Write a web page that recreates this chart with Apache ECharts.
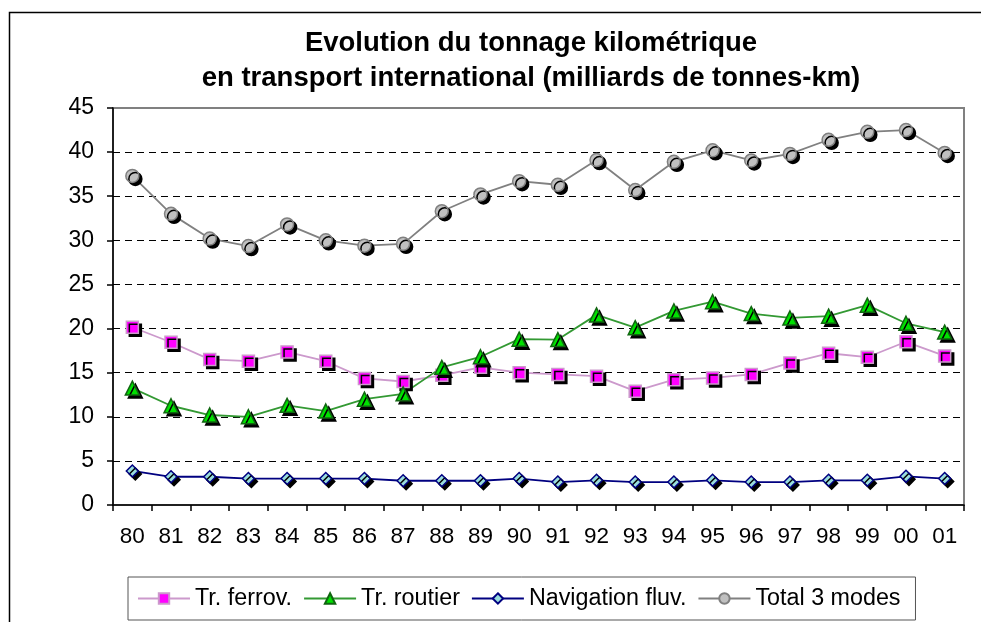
<!DOCTYPE html>
<html>
<head>
<meta charset="utf-8">
<script src="https://cdn.jsdelivr.net/npm/echarts@6/dist/echarts.min.js"></script>
<style>
html,body{margin:0;padding:0;background:#fff;}
#chart{width:981px;height:622px;}
</style>
</head>
<body>
<div id="chart"></div>
<script>
const categories = ['80','81','82','83','84','85','86','87','88','89','90','91','92','93','94','95','96','97','98','99','00','01'];
const railValues = [20.15,18.45,16.5,16.3,17.35,16.3,14.35,14.0,14.7,15.6,15.0,14.8,14.6,12.9,14.2,14.4,14.8,16.1,17.2,16.75,18.5,16.9];
const roadValues = [13.25,11.25,10.2,10.0,11.3,10.65,12.0,12.6,15.6,16.8,18.8,18.75,21.55,20.1,22.0,23.05,21.7,21.2,21.4,22.65,20.6,19.6];
const riverValues = [3.86,3.2,3.2,3.0,3.0,3.0,3.0,2.75,2.75,2.75,3.0,2.6,2.8,2.6,2.6,2.8,2.6,2.6,2.8,2.8,3.25,3.0];
const totalValues = [37.3,33.0,30.2,29.35,31.8,30.0,29.4,29.6,33.3,35.2,36.7,36.3,39.1,35.7,38.9,40.2,39.05,39.8,41.4,42.3,42.5,39.9];
const seriesNames = ['Tr. ferrov.','Tr. routier','Navigation fluv.','Total 3 modes'];
const yTicks = {min:0, max:45, interval:5};
const titleText = 'Evolution du tonnage kilométrique\nen transport international (milliards de tonnes-km)';

const FONT = "'Liberation Sans', Arial, sans-serif";
const chart = echarts.init(document.getElementById('chart'), null, {renderer:'canvas'});

const shadow = {shadowColor:'#000', shadowOffsetX:3, shadowOffsetY:3, shadowBlur:0};
function mk(name, data, symbol, size, fill, border, lineColor){
  return {
    name, type:'line', data, symbol, symbolSize:size, showSymbol:true, showAllSymbol:true,
    lineStyle:{color:lineColor, width:1.8},
    itemStyle:Object.assign({color:fill, borderColor:border, borderWidth:1.5}, shadow),
    emphasis:{disabled:true},
    animation:false
  };
}

chart.setOption({
  animation:false,
  title:{
    text:titleText, left:526, top:21, textAlign:'center',
    textStyle:{fontFamily:FONT, fontSize:27.5, fontWeight:'bold', color:'#000', lineHeight:35}
  },
  grid:{left:113, right:17, top:108, bottom:117, show:true, borderColor:'#808080', borderWidth:2, containLabel:false},
  legend:{
    left:128, top:577, orient:'horizontal',
    padding:[10,15,10,9], itemGap:11, itemWidth:52, itemHeight:13,
    borderColor:'#555', borderWidth:1,
    textStyle:{fontFamily:FONT, fontSize:23.3, color:'#000'},
    itemStyle:{shadowColor:'rgba(0,0,0,0)', shadowOffsetX:0, shadowOffsetY:0},
    data:seriesNames
  },
  xAxis:{
    type:'category', data:categories, boundaryGap:true,
    axisLine:{lineStyle:{color:'#000', width:1.5}},
    axisTick:{show:true, alignWithLabel:false, length:6, inside:false, lineStyle:{color:'#000', width:1.5}},
    axisLabel:{fontFamily:FONT, fontSize:22.5, color:'#000', margin:20, interval:0},
    splitLine:{show:false}
  },
  yAxis:{
    type:'value', min:yTicks.min, max:yTicks.max, interval:yTicks.interval,
    axisLine:{show:true, lineStyle:{color:'#000', width:1.5}},
    axisTick:{show:true, length:6, inside:false, lineStyle:{color:'#000', width:1.5}},
    axisLabel:{fontFamily:FONT, fontSize:23, color:'#000', margin:19},
    splitLine:{show:true, showMaxLine:false, showMinLine:false, lineStyle:{color:'#000', width:1, type:[7,5]}}
  },
  graphic:[{
    type:'rect', silent:true, z:-10,
    shape:{x:9.5, y:12.5, width:1000, height:650},
    style:{fill:'none', stroke:'#000', lineWidth:1.5}
  }],
  series:[
    mk(seriesNames[0], railValues, 'rect', 12, '#FF00FF', '#CC99CC', '#CC99CC'),
    mk(seriesNames[1], roadValues, 'triangle', 14, '#00E000', '#116611', '#339933'),
    mk(seriesNames[2], riverValues, 'diamond', 12, '#99DDDD', '#000080', '#000080'),
    mk(seriesNames[3], totalValues, 'circle', 13, '#C0C0C0', '#808080', '#808080')
  ]
});
</script>
</body>
</html>
